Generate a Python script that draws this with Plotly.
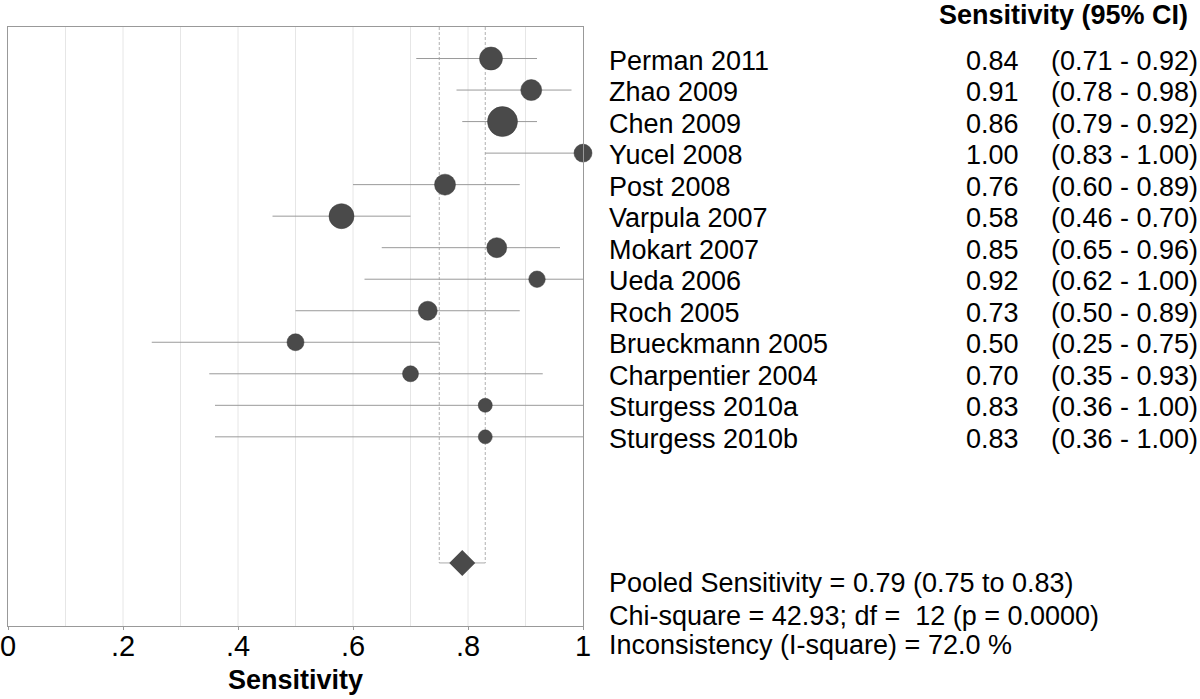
import plotly.graph_objects as go

# ---------------- data ----------------
studies = ["Perman 2011", "Zhao 2009", "Chen 2009", "Yucel 2008", "Post 2008",
           "Varpula 2007", "Mokart 2007", "Ueda 2006", "Roch 2005",
           "Brueckmann 2005", "Charpentier 2004", "Sturgess 2010a", "Sturgess 2010b"]
sens = [0.84, 0.91, 0.86, 1.00, 0.76, 0.58, 0.85, 0.92, 0.73, 0.50, 0.70, 0.83, 0.83]
ci_low = [0.71, 0.78, 0.79, 0.83, 0.60, 0.46, 0.65, 0.62, 0.50, 0.25, 0.35, 0.36, 0.36]
ci_high = [0.92, 0.98, 0.92, 1.00, 0.89, 0.70, 0.96, 1.00, 0.89, 0.75, 0.93, 1.00, 1.00]
pooled = 0.79
pooled_low = 0.75
pooled_high = 0.83
tick_vals = [0, 0.2, 0.4, 0.6, 0.8, 1.0]
tick_text = ["0", ".2", ".4", ".6", ".8", "1"]
footer_lines = ["Pooled Sensitivity = 0.79 (0.75 to 0.83)",
                "Chi-square = 42.93; df =  12 (p = 0.0000)",
                "Inconsistency (I-square) = 72.0 %"]

# ---------------- style ----------------
marker_diam = [23, 21, 30, 18, 21, 25, 20, 16.5, 19, 17, 16, 14, 14]
DARK = "#4a4a4a"
LINE = "#9a9a9a"
FONT = "Liberation Sans, Arial, sans-serif"
FS = 27

rows = list(range(1, len(studies) + 1))
pooled_row = len(studies) + 4
y_max = pooled_row + 2

fig = go.Figure()

# vertical light grid at 0.1
for g in [i / 10 for i in range(1, 10)]:
    fig.add_shape(type="line", x0=g, x1=g, y0=0, y1=y_max, xref="x", yref="y",
                  line=dict(color="#e6e6e6", width=1), layer="below")

# pooled CI bracket
fig.add_trace(go.Scatter(x=[pooled_low, pooled_low], y=[0, pooled_row], mode="lines",
                         line=dict(color="#b0b0b0", width=1, dash="3px,2px"), hoverinfo="skip"))
fig.add_trace(go.Scatter(x=[pooled_high, pooled_high], y=[0, pooled_row], mode="lines",
                         line=dict(color="#b0b0b0", width=1, dash="3px,2px"), hoverinfo="skip"))
fig.add_trace(go.Scatter(x=[pooled_low, pooled_high], y=[pooled_row, pooled_row], mode="lines",
                         line=dict(color="#aaaaaa", width=1), hoverinfo="skip"))

# CI lines
for r, lo, hi in zip(rows, ci_low, ci_high):
    fig.add_trace(go.Scatter(x=[lo, hi], y=[r, r], mode="lines",
                             line=dict(color=LINE, width=1), hoverinfo="skip"))

# study points
fig.add_trace(go.Scatter(x=sens, y=rows, mode="markers",
                         marker=dict(size=marker_diam, color=DARK, opacity=1,
                                     line=dict(color="#3a3a3a", width=0.5)),
                         cliponaxis=False))

# pooled diamond
fig.add_trace(go.Scatter(x=[pooled], y=[pooled_row], mode="markers",
                         marker=dict(symbol="diamond", size=20, color=DARK, opacity=1),
                         cliponaxis=False))

# right-hand text
def px_to_paper_x(px):
    return (px - 7.7) / 575.0

def py_to_paper_y(py):
    return (626 - py) / 599.0

txt_font = dict(size=FS, family=FONT, color="black")
ann = []
ann.append(dict(text="<b>Sensitivity (95% CI)</b>", x=px_to_paper_x(1190), xref="paper",
                xanchor="right", y=py_to_paper_y(15), yref="paper", yanchor="middle",
                showarrow=False, font=txt_font))
for r, name, s, lo, hi in zip(rows, studies, sens, ci_low, ci_high):
    ann.append(dict(text=name, x=px_to_paper_x(607), xref="paper", xanchor="left",
                    y=r, yref="y", yanchor="middle", showarrow=False, yshift=-2,
                    font=txt_font))
    ann.append(dict(text=f"{s:.2f}", x=px_to_paper_x(1021), xref="paper", xanchor="right",
                    y=r, yref="y", yanchor="middle", showarrow=False, yshift=-2,
                    font=txt_font))
    ann.append(dict(text=f"({lo:.2f} - {hi:.2f})", x=px_to_paper_x(1200), xref="paper",
                    xanchor="right", y=r, yref="y", yanchor="middle", showarrow=False, yshift=-2,
                    font=txt_font))
foot_py = [583, 616, 645]
for line, py in zip(footer_lines, foot_py):
    ann.append(dict(text=line, x=px_to_paper_x(607), xref="paper", xanchor="left",
                    y=py_to_paper_y(py), yref="paper", yanchor="middle", showarrow=False,
                    font=txt_font))
# tick labels (placed on the x scale)
for tv, tt in zip(tick_vals, tick_text):
    ann.append(dict(text=tt, x=tv, xref="x", xanchor="center",
                    y=py_to_paper_y(646), yref="paper", yanchor="middle", showarrow=False,
                    font=dict(size=29, family=FONT, color="black")))
# axis title
ann.append(dict(text="<b>Sensitivity</b>", x=0.5, xref="paper", xanchor="center",
                y=py_to_paper_y(680), yref="paper", yanchor="middle", showarrow=False,
                font=txt_font))

fig.update_layout(
    width=1200, height=699,
    margin=dict(l=8, r=617, t=27, b=73, autoexpand=False),
    plot_bgcolor="white", paper_bgcolor="white",
    showlegend=False,
    annotations=ann,
    xaxis=dict(range=[0, 1], tickvals=tick_vals, showticklabels=False, automargin=False,
               showgrid=False, zeroline=False, showline=True, linecolor="#999999",
               mirror=True, ticks="outside", ticklen=3, tickcolor="#999999"),
    yaxis=dict(range=[y_max, 0], showticklabels=False, showgrid=False, zeroline=False,
               automargin=False,
               showline=True, linecolor="#999999", mirror=True, ticks=""),
)

fig.write_html("out.html", config={"displayModeBar": False},
               post_script="document.body.style.margin='0';document.body.style.overflow='hidden';")
